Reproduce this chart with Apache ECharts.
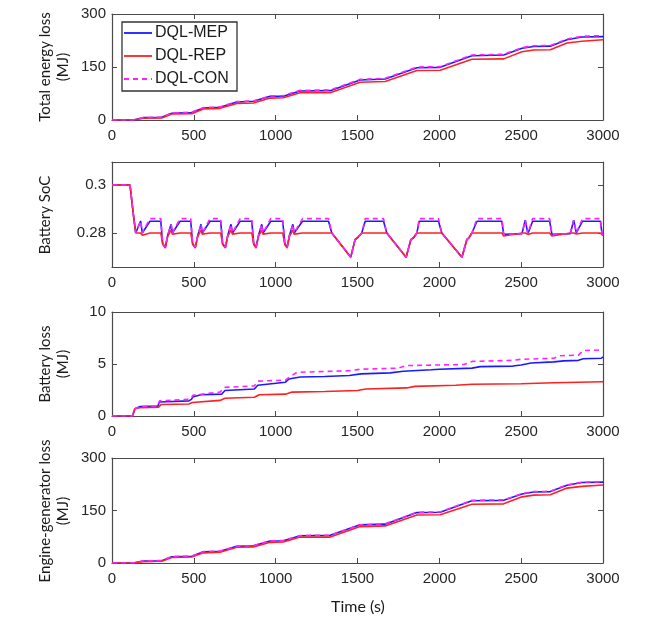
<!DOCTYPE html>
<html><head><meta charset="utf-8">
<script src="https://cdn.jsdelivr.net/npm/echarts@6/dist/echarts.min.js"></script>
<style>html,body{margin:0;padding:0;background:#fff;}#c{width:658px;height:620px;}</style>
</head><body><div id="c"></div>
<script>
// ---- legend / series names ----
const seriesNames = ['DQL-MEP', 'DQL-REP', 'DQL-CON'];
const xTicks = [0, 500, 1000, 1500, 2000, 2500, 3000];

// ---- Total energy loss (MJ) ----
const totalTime = [0,130,192,304,365,487,558,660,762,864,966,1047,1149,1333,1516,1669,1863,2005,2199,2393,2505,2576,2678,2780,2871,3000];
const totalMEP  = [0,0,6.6,7.5,19,21,34,36,51,53,67,67,82,83,113,116,148,149,182,184,203,208,209,227,235,236];
const totalREP  = [0,0,5,6,17,18,31,33,47,48,62,63,77,77,107,109,140,141,172,173,193,198,199,218,223,227];
const totalCON  = [0,0,7,8,20,22,35,37,52,54,68,69,84,85,115,118,150,151,184,186,205,210,211,229,237,239];

// ---- Battery SoC ----
const socTime = [0,110,130,145,175,185,232,298,310,326,340,361,369,416,481,493,509,524,544,552,599,664,676,693,707,727,736,783,854,866,880,895,915,923,970,1043,1056,1070,1084,1105,1113,1164,1323,1343,1459,1485,1500,1526,1547,1659,1679,1683,1797,1826,1842,1863,1877,1995,2015,2020,2138,2168,2181,2199,2230,2382,2393,2505,2525,2541,2570,2674,2688,2800,2821,2837,2875,2984,2994,3000];
const socMEP = [0.300,0.300,0.288,0.280,0.2850,0.2800,0.2849,0.2849,0.2755,0.2741,0.2789,0.2836,0.2800,0.2849,0.2849,0.2755,0.2741,0.2789,0.2836,0.2800,0.2849,0.2849,0.2755,0.2741,0.2789,0.2836,0.2800,0.2849,0.2849,0.2755,0.2741,0.2789,0.2836,0.2800,0.2849,0.2849,0.2755,0.2741,0.2789,0.2836,0.2800,0.2849,0.2849,0.2800,0.2699,0.2772,0.2780,0.2800,0.2849,0.2849,0.2800,0.2800,0.2699,0.2772,0.2780,0.2800,0.2849,0.2849,0.2800,0.2800,0.2699,0.2772,0.2780,0.2800,0.2849,0.2849,0.2794,0.2797,0.2853,0.2797,0.2849,0.2849,0.2794,0.2797,0.2853,0.2800,0.2849,0.2849,0.2797,0.2792];
const socREP = [0.300,0.300,0.288,0.280,0.2800,0.2790,0.2800,0.2800,0.2752,0.2737,0.2786,0.2812,0.2795,0.2800,0.2800,0.2752,0.2737,0.2786,0.2812,0.2795,0.2800,0.2800,0.2752,0.2737,0.2786,0.2812,0.2795,0.2800,0.2800,0.2752,0.2737,0.2786,0.2812,0.2795,0.2800,0.2800,0.2752,0.2737,0.2786,0.2812,0.2795,0.2800,0.2800,0.2800,0.2699,0.2772,0.2780,0.2800,0.2800,0.2800,0.2800,0.2800,0.2699,0.2772,0.2780,0.2800,0.2800,0.2800,0.2800,0.2800,0.2699,0.2772,0.2780,0.2800,0.2800,0.2800,0.2787,0.2800,0.2800,0.2794,0.2800,0.2800,0.2787,0.2800,0.2800,0.2796,0.2800,0.2800,0.2800,0.2788];
const socCON = [0.300,0.300,0.288,0.280,0.2850,0.2800,0.2860,0.2860,0.2755,0.2741,0.2789,0.2836,0.2800,0.2860,0.2860,0.2755,0.2741,0.2789,0.2836,0.2800,0.2860,0.2860,0.2755,0.2741,0.2789,0.2836,0.2800,0.2860,0.2860,0.2755,0.2741,0.2789,0.2836,0.2800,0.2860,0.2860,0.2755,0.2741,0.2789,0.2836,0.2800,0.2860,0.2860,0.2800,0.2699,0.2772,0.2780,0.2800,0.2860,0.2860,0.2800,0.2800,0.2699,0.2772,0.2780,0.2800,0.2860,0.2860,0.2800,0.2800,0.2699,0.2772,0.2780,0.2800,0.2860,0.2860,0.2794,0.2797,0.2853,0.2797,0.2860,0.2860,0.2794,0.2797,0.2853,0.2800,0.2860,0.2860,0.2797,0.2792];
const socTickValues = [0.28, 0.3];

// ---- Battery loss (MJ) ----
const battTimeMEP = [0,125,140,170,280,290,470,485,495,545,670,690,870,890,1060,1080,1150,1300,1450,1520,1700,1780,1950,2000,2200,2250,2450,2500,2560,2700,2760,2850,2880,2990,3000];
const battMEP     = [0,0,0.7,0.9,0.95,1.35,1.45,1.6,1.85,2.05,2.1,2.45,2.6,2.95,3.25,3.55,3.75,3.8,3.9,4.05,4.15,4.3,4.45,4.5,4.6,4.75,4.8,4.9,5.1,5.2,5.3,5.35,5.5,5.55,5.7];
const battTimeREP = [0,125,140,170,285,300,470,490,660,690,870,900,1060,1100,1300,1500,1550,1800,1850,2100,2200,2500,2700,3000];
const battREP     = [0,0,0.7,0.8,0.85,1.1,1.15,1.3,1.5,1.7,1.8,2.05,2.1,2.3,2.35,2.45,2.6,2.7,2.85,2.95,3.05,3.1,3.2,3.3];
const battTimeCON = [0,125,140,170,280,290,470,485,495,660,690,870,890,1060,1080,1130,1450,1520,1750,1800,2150,2200,2450,2500,2700,2740,2850,2880,3000];
const battCON     = [0,0,0.7,0.9,0.95,1.45,1.6,1.75,2.0,2.3,2.75,2.9,3.35,3.45,3.7,4.2,4.35,4.5,4.6,4.85,4.95,5.25,5.35,5.45,5.55,5.8,5.85,6.3,6.35];

// ---- Engine-generator loss (MJ) ----
const engTime = [0,130,192,304,365,487,558,660,762,864,966,1047,1149,1333,1516,1669,1863,2005,2199,2393,2505,2576,2678,2780,2871,3000];
const engMEP  = [0,0,5.5,6.5,18,19.5,32,33.5,47.5,49,63,63.5,78,79,109,111,144,145,178,179,197,203,204,222,230,231];
const engREP  = [0,0,4,5,16,17,29,31,45,46,59,60,74,74,104,106,137,138,168,169,189,194,195,214,219,223];
const engCON  = [0,0,6,7,18.5,20,32.5,34,48,49.5,63.5,64,78.5,79.5,109.5,112,145,146,179,180.5,198,204,205,223,231,232];

// ---- layout ----
const grids = [
  {left:112, width:491, top:14,  height:106},
  {left:112, width:491, top:162, height:105},
  {left:112, width:491, top:312, height:104},
  {left:112, width:491, top:458, height:105}
];
const colors = ['#1a1aff', '#ff2020', '#ff22ff'];
const dashPattern = [5, 4];
const axisCol = '#4a4a4a';
const labelFont = {fontFamily:'Liberation Sans', fontSize:15, color:'#262626'};

function zip(t, v){ return t.map((x,i)=>[x, v[i]]); }
const fmt = v => String(v);

const xAxes = [], yAxes = [], series = [];
const yCfg = [
  {min:0, max:300, interval:150},
  {min:0.2658, max:0.3096, custom:socTickValues},
  {min:0, max:10, interval:5},
  {min:0, max:300, interval:150}
];
grids.forEach((g, i) => {
  const xl = {show:true, onZero:false, lineStyle:{color:axisCol, width:1.2}};
  const xt = {inside:true, length:5, lineStyle:{color:axisCol}};
  xAxes.push({type:'value', gridIndex:i, min:0, max:3000, interval:500, position:'bottom',
    axisLine:xl, axisTick:xt, axisLabel:Object.assign({margin:8, formatter:fmt}, labelFont), splitLine:{show:false}});
  xAxes.push({type:'value', gridIndex:i, min:0, max:3000, interval:500, position:'top',
    axisLine:xl, axisTick:xt, axisLabel:{show:false}, splitLine:{show:false}});
  const c = yCfg[i];
  const base = {type:'value', gridIndex:i, min:c.min, max:c.max, splitLine:{show:false},
    axisLine:{show:true, onZero:false, lineStyle:{color:axisCol, width:1.2}}};
  if (c.interval) base.interval = c.interval;
  const tick = {inside:true, length:5, lineStyle:{color:axisCol}};
  if (c.custom) tick.customValues = c.custom;
  const left = Object.assign({}, base, {position:'left', axisTick:tick,
    axisLabel:Object.assign({margin:6, formatter:fmt}, labelFont, c.custom ? {customValues:c.custom} : {})});
  const right = Object.assign({}, base, {position:'right', axisTick:tick, axisLabel:{show:false}});
  yAxes.push(left, right);
});

const panels = [
  [zip(totalTime,totalMEP), zip(totalTime,totalREP), zip(totalTime,totalCON)],
  [zip(socTime,socMEP), zip(socTime,socREP), zip(socTime,socCON)],
  [zip(battTimeMEP,battMEP), zip(battTimeREP,battREP), zip(battTimeCON,battCON)],
  [zip(engTime,engMEP), zip(engTime,engREP), zip(engTime,engCON)]
];
panels.forEach((p, i) => {
  p.forEach((d, k) => {
    series.push({type:'line', name:seriesNames[k], xAxisIndex:2*i, yAxisIndex:2*i, data:d,
      symbol:'none', showSymbol:false, animation:false, color:colors[k],
      lineStyle:{color:colors[k], width:1.6, type: k===2 ? dashPattern : 'solid'}});
  });
});

const titleFont = {fontFamily:'Lato', fontSize:15, fill:'#1a1a1a'};
function ytitle(text, x, y){
  return {type:'text', x:x, y:y, rotation:Math.PI/2,
    style:Object.assign({text:text, textAlign:'center', textVerticalAlign:'middle', lineHeight:18}, titleFont)};
}

// legend box drawn as graphic (line keys, incl. dashed)
const legendBox = {left:122, top:22, width:115, height:69};
const legendRows = [33, 56, 79];
const legendGraphics = [
  {type:'rect', z:100, shape:{x:legendBox.left, y:legendBox.top, width:legendBox.width, height:legendBox.height},
    style:{fill:'#fff', stroke:'#333', lineWidth:1.3}}
];
seriesNames.forEach((n, k) => {
  const y = legendRows[k];
  legendGraphics.push({type:'line', z:101, shape:{x1:124, y1:y, x2:152, y2:y},
    style:{stroke:colors[k], lineWidth:1.8, lineDash: k===2 ? dashPattern : null}});
  legendGraphics.push({type:'text', z:101, x:155, y:y,
    style:{text:n, fontFamily:'Liberation Sans', fontSize:16, fill:'#1a1a1a', textVerticalAlign:'middle', textAlign:'left'}});
});

const option = {
  backgroundColor:'#fff',
  animation:false,
  grid:grids,
  xAxis:xAxes,
  yAxis:yAxes,
  graphic:[
    ytitle('Total energy loss\n(MJ)', 54, 67),
    ytitle('Battery SoC', 45, 215),
    ytitle('Battery loss\n(MJ)', 54, 364),
    ytitle('Engine-generator loss\n(MJ)', 54, 511),
    {type:'text', x:358, y:607, style:Object.assign({text:'Time (s)', textAlign:'center', textVerticalAlign:'middle'}, titleFont, {fontSize:16})}
  ].concat(legendGraphics),
  series:series
};
const chart = echarts.init(document.getElementById('c'), null, {renderer:'canvas'});
chart.setOption(option);
</script></body></html>
